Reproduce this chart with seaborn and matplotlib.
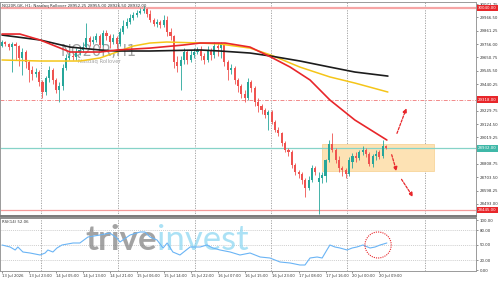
import matplotlib
matplotlib.use("Agg")
import matplotlib.pyplot as plt
import seaborn as sns
import pandas as pd
from matplotlib.patches import Rectangle, Ellipse

# ---------------- data ----------------
opens = [29740, 29772, 29756, 29732, 29756, 29740, 29646, 29693, 29614, 29551,
         29520, 29535, 29456, 29377, 29488, 29551, 29472, 29393, 29424, 29567,
         29646, 29661, 29654, 29693, 29709, 29732, 29803, 29772, 29788, 29819,
         29748, 29843, 29819, 29772, 29803, 29756, 29851, 29898, 29930, 29961,
         29985, 30001, 30016, 30032, 29993, 29945, 29914, 29930, 29906, 29945,
         29851, 29819, 29614, 29583, 29630, 29693, 29630, 29669, 29693, 29709,
         29661, 29630, 29709, 29669, 29740, 29724, 29756, 29614, 29551, 29567,
         29472, 29424, 29361, 29330, 29456, 29409, 29298, 29266, 29235, 29196,
         29219, 29140, 29077, 29053, 28975, 28919, 28904, 28801, 28746, 28730,
         28682, 28619, 28682, 28777, 28667, 28698, 28714, 28840, 28967, 28919,
         28840, 28777, 28761, 28730, 28825, 28872, 28856, 28904, 28919, 28888,
         28809, 28872, 28904, 28872, 28952.25]
highs = [29788, 29780, 29764, 29772, 29772, 29748, 29724, 29709, 29630, 29583,
         29567, 29551, 29472, 29503, 29583, 29567, 29488, 29456, 29598, 29677,
         29693, 29685, 29724, 29740, 29772, 29922, 29819, 29819, 29843, 29835,
         29867, 29867, 29835, 29835, 29819, 29882, 29945, 29961, 29993, 30009,
         30024, 30040, 30056, 30040, 30024, 29961, 29953, 29945, 29985, 29977,
         29882, 29827, 29661, 29661, 29724, 29709, 29709, 29724, 29732, 29740,
         29685, 29740, 29724, 29772, 29764, 29772, 29764, 29630, 29598, 29583,
         29488, 29440, 29393, 29488, 29472, 29424, 29330, 29282, 29251, 29235,
         29235, 29156, 29101, 29061, 28990, 28935, 28919, 28817, 28761, 28746,
         28698, 28714, 28801, 28793, 28746, 28746, 28848, 28998, 29053, 28935,
         28872, 28793, 28777, 28864, 28896, 28904, 28919, 28951, 28935, 28904,
         28888, 28919, 28919, 28998, 28955.00]
lows = [29732, 29740, 29709, 29535, 29630, 29583, 29511, 29567, 29456, 29472,
        29496, 29424, 29330, 29353, 29456, 29440, 29369, 29298, 29393, 29551,
        29630, 29630, 29630, 29669, 29693, 29724, 29740, 29756, 29772, 29724,
        29740, 29788, 29724, 29756, 29724, 29740, 29835, 29882, 29914, 29945,
        29969, 29993, 30001, 29969, 29930, 29898, 29890, 29882, 29890, 29819,
        29788, 29567, 29535, 29393, 29598, 29598, 29614, 29646, 29677, 29630,
        29598, 29614, 29630, 29646, 29661, 29646, 29583, 29472, 29520, 29440,
        29377, 29330, 29298, 29314, 29377, 29266, 29219, 29203, 29172, 29077,
        29124, 29061, 29030, 28951, 28904, 28872, 28777, 28722, 28698, 28651,
        28548, 28604, 28667, 28722, 28414, 28659, 28667, 28825, 28904, 28817,
        28746, 28714, 28698, 28714, 28777, 28825, 28840, 28880, 28864, 28793,
        28785, 28840, 28848, 28856, 28926.50]
closes = [29772, 29756, 29732, 29756, 29740, 29646, 29693, 29614, 29551, 29520,
          29535, 29456, 29377, 29488, 29551, 29472, 29393, 29424, 29567, 29646,
          29661, 29654, 29693, 29709, 29732, 29803, 29772, 29788, 29819, 29748,
          29843, 29819, 29772, 29803, 29756, 29851, 29898, 29930, 29961, 29985,
          30001, 30016, 30032, 29993, 29945, 29914, 29930, 29906, 29945, 29851,
          29819, 29614, 29583, 29630, 29693, 29630, 29669, 29693, 29709, 29661,
          29630, 29709, 29669, 29740, 29724, 29756, 29614, 29551, 29567, 29472,
          29424, 29361, 29330, 29456, 29409, 29298, 29266, 29235, 29196, 29219,
          29140, 29077, 29053, 28975, 28919, 28904, 28801, 28746, 28730, 28682,
          28619, 28682, 28777, 28746, 28698, 28722, 28840, 28967, 28919, 28840,
          28777, 28761, 28730, 28840, 28872, 28856, 28904, 28919, 28888, 28809,
          28872, 28888, 28864, 28951, 28932.00]

# moving averages (read at selected bars)
ma_fast_bars = [0, 5.3, 11.3, 20.2, 29.1, 34.1, 43.9, 53.7, 58.8, 66.2, 73.6, 79.8, 85.5, 91.4, 97.3, 104.7, 114.2]
ma_fast_vals = [29835, 29835, 29788, 29693, 29693, 29709, 29724, 29748, 29764, 29764, 29732, 29653, 29574, 29472, 29314, 29156, 28998]
ma_slow_bars = [0, 11.3, 20.2, 29.1, 34.1, 43.9, 58.8, 64.7, 73.6, 79.8, 88.4, 97.3, 104.7, 114.5]
ma_slow_vals = [29827, 29788, 29732, 29709, 29701, 29701, 29709, 29701, 29685, 29661, 29622, 29574, 29535, 29503]
ma_mid_bars = [0, 11.3, 23.1, 29.1, 34.1, 38.9, 43.9, 48.9, 58.8, 64.7, 73.6, 79.8, 88.4, 97.3, 104.7, 114.5]
ma_mid_vals = [29630, 29622, 29622, 29646, 29693, 29740, 29764, 29772, 29764, 29756, 29724, 29669, 29574, 29496, 29448, 29377]

# RSI (read at selected bars)
rsi_bars = [0, 2.4, 3.9, 4.7, 6.2, 8.3, 11.3, 12.8, 13.6, 15.1, 16.3, 17.8, 21.1, 23.1, 25.5, 29.1, 32.0,
            34.1, 35.0, 38.0, 41.0, 42.4, 43.9, 46.0, 47.8, 49.0, 50.7, 52.8, 55.8, 58.8, 60.8, 62.6,
            64.7, 67.7, 70.6, 73.6, 76.6, 79.5, 82.5, 85.5, 88.4, 89.9, 91.4, 93.5, 95.0, 96.4, 97.3,
            98.8, 100.3, 102.4, 103.9, 105.3, 107.1, 109.2, 110.7, 112.2, 114.2]
rsi_vals = [50, 46, 40, 46, 36, 34, 30, 34, 40, 36, 44, 50, 54, 54, 66, 70, 74,
            64, 56, 70, 76, 76, 66, 60, 44, 54, 36, 30, 46, 46, 50, 44,
            40, 36, 30, 34, 26, 24, 16, 14, 10, 10, 24, 26, 24, 40, 50,
            46, 44, 40, 44, 46, 50, 44, 46, 50, 54]

price_ticks = [30071.75, 29966.50, 29861.25, 29756.00, 29650.75, 29545.50, 29440.25, 29335.00,
               29229.75, 29124.50, 29019.25, 28914.00, 28808.75, 28703.50, 28598.25, 28493.00]
hidden_ticks = [29335.00, 28914.00]   # covered by the price boxes in the original
rsi_ticks = [100, 80, 50, 20, 0]
time_labels = ["13 Jul 2026", "13 Jul 23:00", "14 Jul 05:00", "14 Jul 13:00", "14 Jul 21:00",
               "15 Jul 06:00", "15 Jul 14:00", "15 Jul 22:00", "16 Jul 07:00", "16 Jul 15:00",
               "16 Jul 23:00", "17 Jul 08:00", "17 Jul 16:00", "20 Jul 00:00", "20 Jul 09:00"]

resist_top = 30040.00
resist_mid = 29318.00
current_price = 28932.00
support_low = 28445.00
zone_low, zone_high = 28753, 28967
header = "NQ20R.GK, H1: Nasdaq Rollover 28952.25 28955.00 28926.50 28932.00"

# ---------------- style ----------------
sns.set_theme(style="white")
plt.rcParams['font.family'] = ['DejaVu Sans']

W, H = 500, 281
fig = plt.figure(figsize=(5.0, 2.81), dpi=100)
fig.patch.set_facecolor("white")

def fx(px):
    return px / W

def fy(py):
    return 1 - py / H

ax = fig.add_axes([0, fy(216), fx(476), (216 - 2) / H])
axr = fig.add_axes([0, fy(271), fx(476), (271 - 218) / H])

df = pd.DataFrame({"o": opens, "h": highs, "l": lows, "c": closes})
df["bar"] = range(len(df))
bull = "#26a69a"
bear = "#ef5350"
cols = [bull if c >= o else bear for o, c in zip(df.o, df.c)]

XMAX = 140.65
vgrid = [11.6, 34.3, 57.3, 79.8, 102.4, 125.5]
SMALL = 2.8

# --- main panel ---
ax.set_xlim(-0.6, XMAX)
ax.set_ylim(28398, 30088)
for v in vgrid:
    ax.axvline(v, color="#9a9a9a", lw=0.6, ls=(0, (1.5, 1.5)), zorder=0.5)

ax.add_patch(Rectangle((95.0, zone_low), 128.2 - 95.0, zone_high - zone_low,
                       facecolor="#fde2b4", edgecolor="#f6cf8e", lw=0.5, zorder=0.6))

ax.axhline(resist_top, color="#f6a5a5", lw=1.6, zorder=1)
ax.axhline(resist_mid, color="#f28a8a", lw=0.7, ls=(0, (4, 1.5, 1, 1.5)), zorder=1)
ax.axhline(current_price, color="#86d3c8", lw=0.9, zorder=1)
ax.axhline(support_low, color="#f39a9a", lw=0.9, zorder=1)

ax.text(0.128, 0.75, "NQ20R,H1", transform=ax.transAxes, fontsize=10.5, color="#8a8a8a",
        alpha=0.8, ha="left", va="baseline", zorder=0.7)
ax.text(0.163, 0.715, "Nasdaq Rollover", transform=ax.transAxes, fontsize=3.8, color="#9d9d9d",
        alpha=0.9, ha="left", va="baseline", zorder=0.7)

ax.vlines(df.bar, df.l, df.h, colors=cols, lw=0.6, zorder=2)
bodies = (df.c - df.o).abs().clip(lower=5)
ax.bar(df.bar, bodies, bottom=df[["o", "c"]].min(axis=1), width=0.62, color=cols,
       edgecolor="none", zorder=3)

sns.lineplot(x=ma_mid_bars, y=ma_mid_vals, ax=ax, color="#f5c518", lw=1.1, zorder=4)
sns.lineplot(x=ma_slow_bars, y=ma_slow_vals, ax=ax, color="#1c1c1c", lw=1.2, zorder=4)
sns.lineplot(x=ma_fast_bars, y=ma_fast_vals, ax=ax, color="#e8262a", lw=1.2, zorder=5)

arrow_kw = dict(arrowstyle="-|>", color="#e8262a", lw=0.9, ls=(0, (2, 1.2)), mutation_scale=6)
ax.annotate("", xy=(120.3, 29270), xytext=(116.9, 29030), arrowprops=arrow_kw, zorder=6)
ax.annotate("", xy=(117.3, 28730), xytext=(115.4, 28903), arrowprops=arrow_kw, zorder=6)
ax.annotate("", xy=(122.4, 28530), xytext=(118.1, 28706), arrowprops=arrow_kw, zorder=6)

ax.yaxis.tick_right()
ax.set_yticks(price_ticks)
ax.set_yticklabels(["" if v in hidden_ticks else f"{v:.2f}" for v in price_ticks])
ax.tick_params(axis="y", right=True, length=1.5, width=0.5, pad=1, labelsize=SMALL,
               labelcolor="#333333", color="#666666")
ax.set_xticks([])
ax.set_xlabel("")
ax.set_ylabel("")
for s in ["left", "top", "right"]:
    ax.spines[s].set_color("#9a9a9a")
    ax.spines[s].set_linewidth(0.7)
ax.spines["bottom"].set_color("#7a7a7a")
ax.spines["bottom"].set_linewidth(1.4)

def price_box(val, fc):
    ax.text(1.004, val, f"{val:.2f}", transform=ax.get_yaxis_transform(),
            fontsize=SMALL, color="white", ha="left", va="center", zorder=10, clip_on=False,
            bbox=dict(boxstyle="square,pad=0.3", facecolor=fc, edgecolor="none"))

price_box(resist_top, "#e8262a")
price_box(resist_mid, "#e8262a")
price_box(current_price, "#3fb8a8")
price_box(support_low, "#e8262a")

fig.text(0.004, fy(5.5), header, fontsize=2.9, color="#333333", ha="left", va="center")

# --- RSI panel ---
axr.set_xlim(-0.6, XMAX)
axr.set_ylim(-2, 104)
for v in vgrid:
    axr.axvline(v, color="#9a9a9a", lw=0.6, ls=(0, (1.5, 1.5)), zorder=0.5)
for lvl in [80, 50, 20]:
    axr.axhline(lvl, color="#bdbdbd", lw=0.5, ls=(0, (1.5, 1.5)), zorder=0.5)

axr.text(157 / 476, 0.40, "trive", transform=axr.transAxes, fontsize=25, family="Lato",
         weight="bold", color="#7d7d7d", alpha=0.7, ha="right", va="baseline", zorder=0.6,
         clip_on=False)
axr.text(157 / 476, 0.40, "invest", transform=axr.transAxes, fontsize=25, family="Lato",
         color="#8fd8f2", alpha=0.75, ha="left", va="baseline", zorder=0.6, clip_on=False)

sns.lineplot(x=rsi_bars, y=rsi_vals, ax=axr, color="#6ab4f5", lw=0.8, zorder=3)
axr.add_patch(Ellipse((111.6, 50), 7.8, 52, facecolor="none", edgecolor="#e8262a",
                      lw=0.8, ls=(0, (1, 1)), zorder=4))
axr.text(0.004, 0.93, "RSI(14) 52.06", transform=axr.transAxes, fontsize=SMALL,
         color="#333333", ha="left", va="center")

axr.yaxis.tick_right()
axr.set_yticks(rsi_ticks)
axr.set_yticklabels([f"{v:.2f}" for v in rsi_ticks])
axr.tick_params(axis="y", right=True, length=1.5, width=0.5, pad=1, labelsize=SMALL,
                labelcolor="#333333", color="#666666")
axr.set_xticks([8 * k for k in range(len(time_labels))])
axr.set_xticklabels(time_labels, ha="left")
axr.tick_params(axis="x", bottom=True, length=1.5, width=0.5, pad=1, labelsize=2.7,
                labelcolor="#333333", color="#666666")
axr.set_xlabel("")
axr.set_ylabel("")
for s in ["left", "bottom", "right"]:
    axr.spines[s].set_color("#9a9a9a")
    axr.spines[s].set_linewidth(0.7)
axr.spines["top"].set_color("#7a7a7a")
axr.spines["top"].set_linewidth(1.2)

fig.savefig("out.png", dpi=100, facecolor="white")
